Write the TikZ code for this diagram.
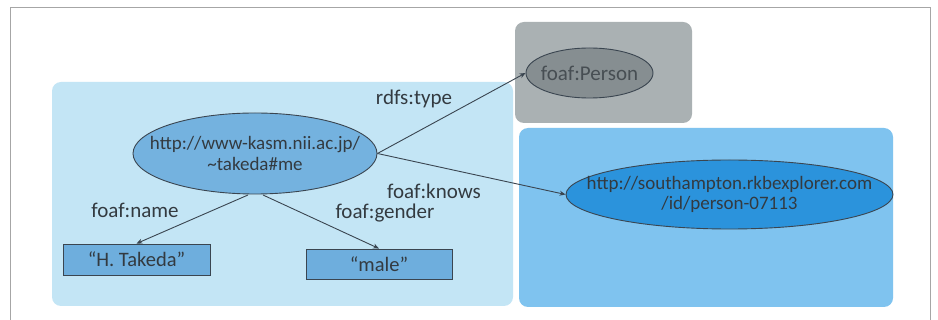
\documentclass[tikz,border=0pt]{standalone}
\usepackage{fontspec}
\setmainfont{Carlito}
\usetikzlibrary{shapes.geometric,arrows.meta}
\definecolor{lightbg}{HTML}{C3E5F5}
\definecolor{graybg}{HTML}{AAB1B3}
\definecolor{bluebg}{HTML}{7FC3EF}
\definecolor{grayell}{HTML}{868E91}
\definecolor{ellA}{HTML}{74B2DF}
\definecolor{ellB}{HTML}{2B93DC}
\definecolor{rectfill}{HTML}{6EAEDD}
\definecolor{txt}{HTML}{333A40}
\definecolor{edge}{HTML}{3A4550}
\tikzset{
  panel/.style={rounded corners=9pt, draw=none},
  res/.style={ellipse, draw=edge, line width=0.9pt, inner sep=0pt},
  restext/.style={text=txt, align=center, inner sep=0pt, font=\fontsize{19}{21.5}\selectfont},
  lit/.style={rectangle, draw=edge, line width=0.9pt, fill=rectfill, inner sep=0pt, text=txt, font=\fontsize{20.5}{22}\selectfont},
  lbl/.style={text=txt, font=\fontsize{21}{23}\selectfont, inner sep=0pt},
  arr/.style={draw=edge, line width=0.9pt, -{Stealth[length=6pt,width=5pt]}},
}
\begin{document}
\begin{tikzpicture}[x=1pt,y=-1pt]
\useasboundingbox (0,0) rectangle (938,320);
\fill[white] (0,0) rectangle (938,320);
\draw[gray!70, line width=1pt] (10,330) -- (10,8) -- (930,8) -- (930,330);
% panels
\fill[panel, lightbg] (52,82) rectangle (513,306);
\fill[panel, graybg] (515,22) rectangle (692,123);
\fill[panel, bluebg] (519,128) rectangle (893,307);
% nodes
\node[res, fill=ellA, minimum width=244pt, minimum height=81pt] (me) at (255,153.5) {};
\node[restext] (meT) at (me.center) {http://www-kasm.nii.ac.jp/\\[-1pt]\textasciitilde takeda\#me};
\node[res, fill=grayell, minimum width=127pt, minimum height=50pt] (person) at (589.5,73) {};
\node[restext, text=txt!90, font=\fontsize{21}{22}\selectfont] (personT) at (person.center) {foaf:Person};
\node[res, fill=ellB, minimum width=327pt, minimum height=69pt] (soton) at (729.5,194.5) {};
\node[restext] (sotonT) at (soton.center) {http://southampton.rkbexplorer.com\\[-1pt]/id/person-07113};
\node[lit, minimum width=147pt, minimum height=31pt] (name) at (136.5,259.5) {“H. Takeda”};
\node[lit, minimum width=146pt, minimum height=30pt] (male) at (379,264) {“male”};
% edges
\coordinate (meB1) at (248,195);
\coordinate (meB2) at (263,195);
\draw[arr] (me.east) -- (person.west);
\draw[arr] (me.east) -- (soton.west);
\draw[arr] (meB1) -- (name.north);
\draw[arr] (meB2) -- (male.north);
% labels
\node[lbl] (l1) at (414,99) {rdfs:type};
\node[lbl] (l2) at (434,191) {foaf:knows};
\node[lbl] (l3) at (135,210) {foaf:name};
\node[lbl] (l4) at (385,213) {foaf:gender};
\end{tikzpicture}
\end{document}
